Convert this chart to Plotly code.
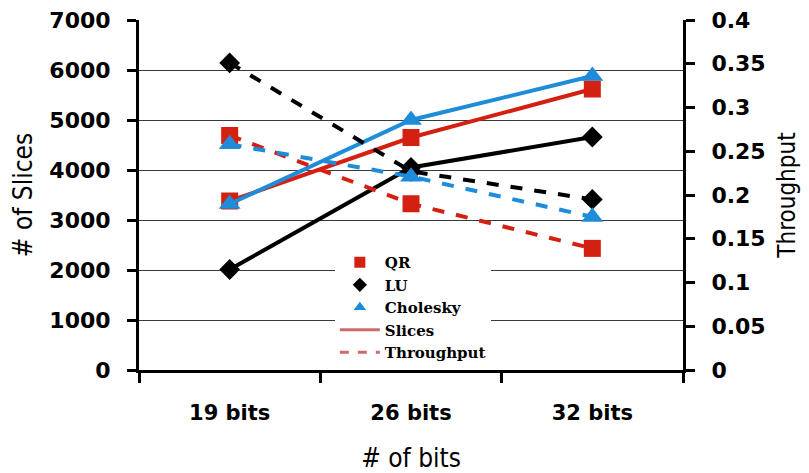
import plotly.graph_objects as go

categories = ["19 bits", "26 bits", "32 bits"]

qr_slices = [3380, 4650, 5620]
lu_slices = [2010, 4050, 4660]
chol_slices = [3320, 5000, 5880]

qr_thr = [0.268, 0.190, 0.139]
lu_thr = [0.351, 0.227, 0.195]
chol_thr = [0.258, 0.221, 0.175]

left_ticks = [0, 1000, 2000, 3000, 4000, 5000, 6000, 7000]
right_ticks = [0, 0.05, 0.1, 0.15, 0.2, 0.25, 0.3, 0.35, 0.4]
right_labels = ["0", "0.05", "0.1", "0.15", "0.2", "0.25", "0.3", "0.35", "0.4"]

RED = "#D42010"
BLACK = "#000000"
BLUE = "#1E8CD8"
LEG = "#D06A6A"

series = [
    ("QR", qr_slices, qr_thr, RED, "square", 17),
    ("LU", lu_slices, lu_thr, BLACK, "diamond", 16),
    ("Cholesky", chol_slices, chol_thr, BLUE, "triangle-up", 19),
]

fig = go.Figure()
for name, s, t, c, sym, sz in series:
    fig.add_trace(go.Scatter(x=categories, y=s, mode="lines+markers", yaxis="y",
                             line=dict(color=c, width=4),
                             marker=dict(symbol=sym, size=sz, color=c),
                             showlegend=False))
    fig.add_trace(go.Scatter(x=categories, y=t, mode="lines+markers", yaxis="y2",
                             line=dict(color=c, width=4, dash="dash"),
                             marker=dict(symbol=sym, size=sz, color=c),
                             showlegend=False))

for name, s, t, c, sym, sz in series:
    fig.add_trace(go.Scatter(x=[None], y=[None], mode="markers", name=name,
                             marker=dict(symbol=sym, size=11, color=c)))
fig.add_trace(go.Scatter(x=[None], y=[None], mode="lines", name="Slices",
                         line=dict(color=LEG, width=3)))
fig.add_trace(go.Scatter(x=[None], y=[None], mode="lines", name="Throughput",
                         line=dict(color=LEG, width=3, dash="dash")))

ytickfont = dict(family="DejaVu Sans", size=22, color="black", weight="bold")
xtickfont = dict(family="DejaVu Sans", size=21, color="black", weight="bold")
COND = "DejaVu Sans Condensed, Liberation Sans Narrow, sans-serif"
titlefont = dict(family=COND, size=26, color="black")
rtitlefont = dict(family=COND, size=24, color="black")

fig.update_layout(
    width=809, height=473,
    margin=dict(l=131, r=134, t=12, b=111),
    paper_bgcolor="white", plot_bgcolor="white",
    xaxis=dict(type="category", range=[-0.5, 2.5], tickson="boundaries",
               automargin=False,
               ticks="outside", ticklen=10, tickwidth=3, tickcolor="black",
               showline=True, linecolor="black", linewidth=3,
               showgrid=False, tickfont=xtickfont, ticklabelstandoff=22,
               title=dict(text="# of bits", font=titlefont, standoff=25)),
    yaxis=dict(range=[0, 7000], tickvals=left_ticks, automargin=False,
               ticks="outside", ticklen=9, tickwidth=3, tickcolor="black",
               showline=True, linecolor="black", linewidth=3,
               showgrid=True, gridcolor="#3a3a3a", gridwidth=1,
               zeroline=False, tickfont=ytickfont, ticklabelstandoff=12,
               ticklabeloverflow="allow",
               title=dict(text="# of Slices", font=titlefont, standoff=17)),
    yaxis2=dict(range=[0, 0.4], tickvals=right_ticks, ticktext=right_labels,
                overlaying="y", side="right", automargin=False,
                ticks="outside", ticklen=9, tickwidth=3, tickcolor="black",
                showline=True, linecolor="black", linewidth=3,
                showgrid=False, zeroline=False, tickfont=ytickfont,
                ticklabelstandoff=12, ticklabeloverflow="allow",
                title=dict(text="Throughput", font=rtitlefont, standoff=14)),
    legend=dict(x=0.36, y=0.354, xanchor="left", yanchor="top",
                bgcolor="white", borderwidth=0, tracegroupgap=0,
                font=dict(family="DejaVu Serif", size=15, color="black", weight="bold"),
                itemwidth=40),
)

fig.write_html("out.html")
